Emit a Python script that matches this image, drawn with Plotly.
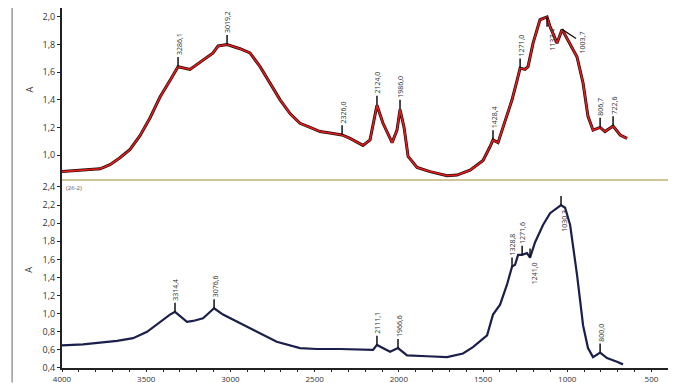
import plotly.graph_objects as go

# ---- data ----
top_wn = [4000, 3774, 3715, 3656, 3596, 3537, 3477, 3418, 3359, 3311, 3240, 3180, 3103, 3073, 3020,
          2943, 2884, 2824, 2765, 2705, 2646, 2587, 2527, 2468, 2409, 2337, 2290, 2213, 2171, 2130,
          2094, 2040, 2011, 1993, 1969, 1945, 1892, 1815, 1714, 1655, 1577, 1500, 1459, 1441, 1411,
          1381, 1328, 1298, 1280, 1251, 1233, 1203, 1162, 1120, 1102, 1061, 1031, 995, 942, 906,
          877, 847, 805, 776, 728, 686, 645]
top_a = [0.88, 0.90, 0.93, 0.98, 1.04, 1.14, 1.27, 1.42, 1.54, 1.64, 1.62, 1.67, 1.74, 1.79, 1.80,
         1.77, 1.74, 1.64, 1.52, 1.40, 1.30, 1.23, 1.20, 1.17, 1.16, 1.145, 1.12, 1.07, 1.11, 1.36,
         1.23, 1.09, 1.18, 1.33, 1.20, 0.99, 0.91, 0.88, 0.85, 0.855, 0.89, 0.96, 1.06, 1.11, 1.09,
         1.20, 1.40, 1.54, 1.63, 1.62, 1.64, 1.81, 1.98, 2.00, 1.93, 1.81, 1.91, 1.83, 1.71, 1.52,
         1.28, 1.18, 1.20, 1.17, 1.21, 1.145, 1.12]

bot_wn = [4000, 3875, 3673, 3578, 3495, 3418, 3359, 3329, 3287, 3258, 3222, 3163, 3133, 3097, 3044,
          2884, 2725, 2587, 2487, 2350, 2153, 2130, 2052, 2005, 1951, 1832, 1714, 1619, 1560, 1476,
          1441, 1399, 1358, 1328, 1310, 1292, 1268, 1239, 1221, 1191, 1144, 1102, 1061, 1037, 1013,
          983, 942, 906, 877, 847, 805, 764, 705, 669]
bot_a = [0.65, 0.66, 0.70, 0.73, 0.80, 0.91, 0.99, 1.02, 0.95, 0.91, 0.92, 0.95, 1.00, 1.06, 0.99,
         0.84, 0.69, 0.62, 0.61, 0.61, 0.60, 0.655, 0.58, 0.62, 0.54, 0.53, 0.52, 0.56, 0.63, 0.76,
         0.99, 1.10, 1.32, 1.52, 1.54, 1.65, 1.65, 1.67, 1.62, 1.79, 1.98, 2.11, 2.17, 2.20, 2.17,
         1.98, 1.43, 0.87, 0.62, 0.52, 0.57, 0.51, 0.47, 0.44]

# peak labels; mode: "up" = label above, "down" = label below, "side" = label offset right with leader line
top_pk_wn = [3311, 3020, 2337, 2130, 1993, 1441, 1280, 1120, 1031, 805, 728]
top_pk_a = [1.64, 1.80, 1.145, 1.36, 1.33, 1.11, 1.63, 2.00, 1.91, 1.20, 1.21]
top_pk_lbl = ["3286,1", "3019,2", "2326,0", "2124,0", "1986,0", "1428,4", "1271,0", "1137,4", "1003,7", "806,7", "722,6"]
top_pk_mode = ["up", "up", "up", "up", "up", "up", "up", "down", "side", "up", "up"]

bot_pk_wn = [3329, 3097, 2130, 2005, 1328, 1268, 1221, 1037, 805]
bot_pk_a = [1.02, 1.06, 0.655, 0.62, 1.52, 1.65, 1.62, 2.20, 0.57]
bot_pk_lbl = ["3314,4", "3076,6", "2111,1", "1966,6", "1328,8", "1271,6", "1241,0", "1030,3", "800,0"]
bot_pk_mode = ["up", "up", "up", "up", "up", "up", "down", "down", "up"]

x_ticks = [4000, 3500, 3000, 2500, 2000, 1500, 1000, 500]
top_yticks = [1.0, 1.2, 1.4, 1.6, 1.8, 2.0]
bot_yticks = [0.4, 0.6, 0.8, 1.0, 1.2, 1.4, 1.6, 1.8, 2.0, 2.2, 2.4]

def fmt(v):
    return ("%.1f" % v).replace(".", ",")

SPLIT = 0.5222

fig = go.Figure()
fig.add_trace(go.Scatter(x=top_wn, y=top_a, mode="lines", line=dict(color="#2a0a0a", width=3),
                         xaxis="x", yaxis="y", hoverinfo="skip"))
fig.add_trace(go.Scatter(x=top_wn, y=top_a, mode="lines", line=dict(color="#e01e1e", width=1.6),
                         xaxis="x", yaxis="y"))
fig.add_trace(go.Scatter(x=bot_wn, y=bot_a, mode="lines", line=dict(color="#1c1f4c", width=2.2),
                         xaxis="x2", yaxis="y2"))

def marker_segments(wn, a, modes, delta):
    xs, ys = [], []
    for w, v, m in zip(wn, a, modes):
        if m == "side":
            continue
        s = -1 if (m == "down" and delta < 0.09) else 1
        xs += [w, w, None]
        ys += [v, v + s * delta, None]
    return xs, ys

mx, my = marker_segments(top_pk_wn, top_pk_a, top_pk_mode, 0.07)
fig.add_trace(go.Scatter(x=mx, y=my, mode="lines", line=dict(color="#111", width=1.5),
                         xaxis="x", yaxis="y", hoverinfo="skip", cliponaxis=False))
mx, my = marker_segments(bot_pk_wn, bot_pk_a, bot_pk_mode, 0.1)
fig.add_trace(go.Scatter(x=mx, y=my, mode="lines", line=dict(color="#111", width=1.5),
                         xaxis="x2", yaxis="y2", hoverinfo="skip"))

annots = []
lblfont = dict(size=7, color="#333")
for w, v, l, m in zip(top_pk_wn, top_pk_a, top_pk_lbl, top_pk_mode):
    if m == "side":
        annots.append(dict(x=w, y=v, xref="x", yref="y", text=l, showarrow=True, arrowhead=0,
                           arrowwidth=1.3, arrowcolor="#111", ax=20, ay=13, textangle=-90, font=lblfont))
    else:
        d = 1 if m == "up" else -1
        annots.append(dict(x=w, y=v + d * 0.07, xref="x", yref="y", text=l, showarrow=False, textangle=-90,
                           font=lblfont, yanchor="bottom" if d > 0 else "top",
                           xshift=1 if d > 0 else 6))
for w, v, l, m in zip(bot_pk_wn, bot_pk_a, bot_pk_lbl, bot_pk_mode):
    d = 1 if m == "up" else -1
    annots.append(dict(x=w, y=v + (0.1 if d > 0 else -0.03), xref="x2", yref="y2", text=l, showarrow=False,
                       textangle=-90, font=lblfont, yanchor="bottom" if d > 0 else "top",
                       xshift=1 if d > 0 else 4))
annots.append(dict(x=-0.069, y=0.786, xref="paper", yref="paper", text="A", showarrow=False, textangle=-90,
                   font=dict(size=9, color="#333")))
annots.append(dict(x=-0.069, y=0.258, xref="paper", yref="paper", text="A", showarrow=False, textangle=-90,
                   font=dict(size=9, color="#333")))
annots.append(dict(x=0.004, y=SPLIT - 0.005, xref="paper", yref="paper", text="(26-2)", showarrow=False,
                   xanchor="left", yanchor="top", font=dict(size=6, color="#555")))

tickfont = dict(size=9, color="#333", family="Open Sans")
axis_common = dict(showgrid=False, zeroline=False)
fig.update_layout(
    width=668, height=375,
    margin=dict(l=54, r=6, t=0, b=15),
    paper_bgcolor="white", plot_bgcolor="white",
    showlegend=False,
    xaxis=dict(range=[4000, 390], domain=[0, 1], anchor="y", showticklabels=False, ticks="",
               showline=False, **axis_common),
    yaxis=dict(range=[0.819, 2.065], domain=[SPLIT, 1], anchor="x", tickvals=top_yticks,
               ticktext=[fmt(v) for v in top_yticks], ticks="outside", ticklen=3, tickcolor="#222",
               tickfont=tickfont, showline=True, linecolor="#222", linewidth=2, **axis_common),
    xaxis2=dict(range=[4000, 390], domain=[0, 1], anchor="y2", tickvals=x_ticks,
                ticktext=[str(v) for v in x_ticks], ticks="outside", ticklen=2, tickcolor="#222",
                minor=dict(dtick=100, ticks="outside", ticklen=2, tickcolor="#222"),
                tickfont=dict(size=8, color="#333", family="Open Sans"),
                showline=True, linecolor="#222", linewidth=2, **axis_common),
    yaxis2=dict(range=[0.4, 2.477], domain=[0, SPLIT], anchor="x2", tickvals=bot_yticks,
                ticktext=[fmt(v) for v in bot_yticks], ticks="outside", ticklen=3, tickcolor="#222",
                tickfont=tickfont, showline=True, linecolor="#222", linewidth=2, **axis_common),
    annotations=annots,
    shapes=[
        dict(type="line", xref="paper", yref="paper", x0=0, x1=1, y0=SPLIT, y1=SPLIT,
             line=dict(color="#cfc596", width=2)),
        dict(type="line", xref="paper", yref="paper", x0=-0.082, x1=-0.082, y0=-0.04, y1=1.0,
             line=dict(color="#9a9a9a", width=1.5)),
    ],
)

fig.write_html("out.html")
